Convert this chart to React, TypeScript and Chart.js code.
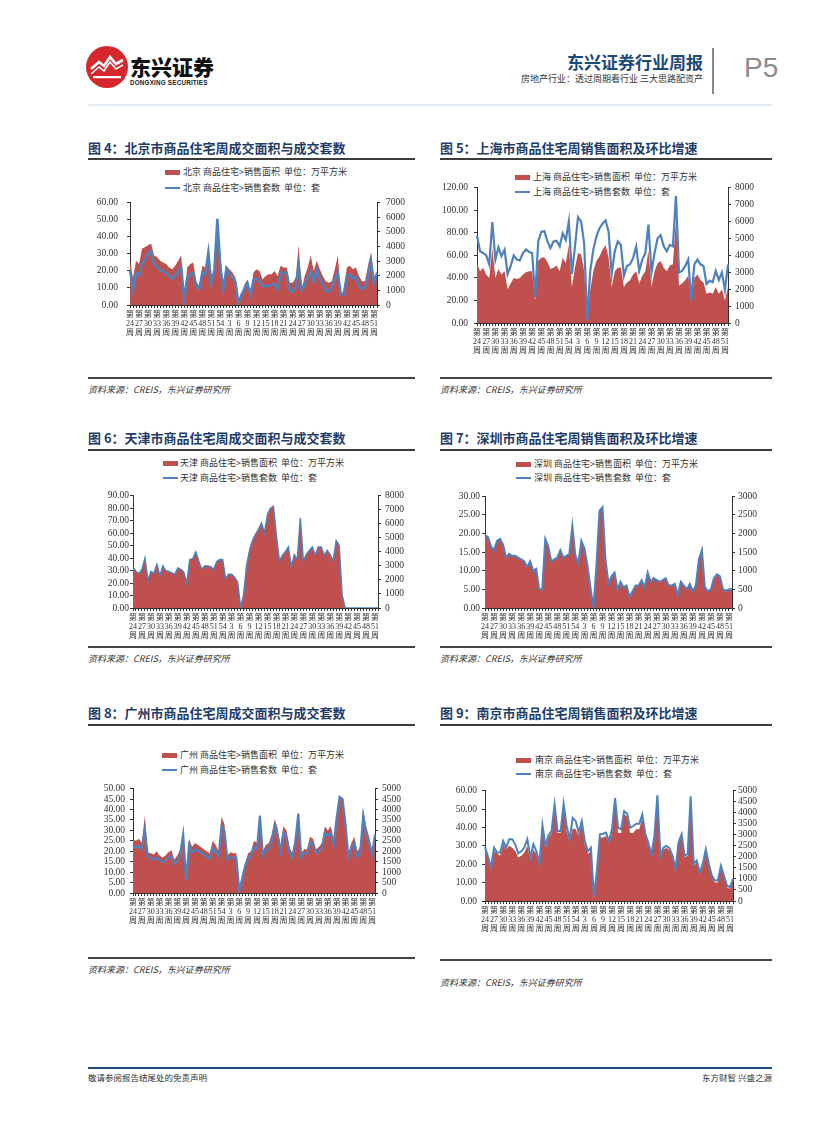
import React, { useEffect, useRef } from 'react';
import { Chart, registerables } from 'chart.js';

Chart.register(...registerables);

// ---------- categories ----------
const WEEKS = [
  24, 25, 26, 27, 28, 29, 30, 31, 32, 33, 34, 35, 36, 37, 38, 39, 40, 41, 42, 43, 44, 45, 46, 47, 48, 49, 50, 51, 52, 53, 54,
  1, 2, 3, 4, 5, 6, 7, 8, 9, 10, 11, 12, 13, 14, 15, 16, 17, 18, 19, 20, 21, 22, 23, 24, 25, 26, 27, 28, 29, 30, 31, 32,
  33, 34, 35, 36, 37, 38, 39, 40, 41, 42, 43, 44, 45, 46, 47, 48, 49, 50, 51, 52,
];

// ---------- 北京 ----------
const BJ_AREA = [
  26, 16, 26, 24, 33, 34, 35, 36, 29, 28,
  26, 25, 24, 22, 21, 23, 26, 29, 4, 22,
  24, 25, 14, 11, 23, 22, 32, 12, 22, 51,
  30, 10, 23, 21, 19, 16, 1, 6, 12, 15,
  6, 19, 21, 20, 15, 17, 18, 18, 20, 17,
  23, 22, 22, 13, 13, 16, 35, 9, 17, 22,
  29, 20, 26, 21, 17, 14, 13, 14, 21, 29,
  6, 9, 22, 23, 21, 22, 17, 14, 14, 23,
  31, 16, 20,
];
const BJ_UNITS = [
  2400, 1000, 2200, 2000, 2800, 3100, 3500, 3700, 2800, 2600,
  2400, 2300, 2200, 2000, 1800, 2000, 2300, 2600, 400, 1900,
  2100, 2200, 1300, 1100, 2200, 2100, 3600, 1500, 2400, 5900,
  2600, 1100, 2500, 2100, 1900, 1600, 100, 700, 1100, 1500,
  700, 1700, 1800, 1600, 1300, 1300, 1300, 1400, 1400, 1100,
  2200, 2200, 2200, 1000, 900, 1200, 2700, 1000, 1400, 1900,
  2300, 1600, 2400, 1800, 1400, 1000, 900, 1200, 1800, 2200,
  700, 800, 2000, 2100, 1800, 1900, 1300, 1100, 1200, 1900,
  3000, 1500, 2200,
];

// ---------- 上海 ----------
const SH_AREA = [
  53, 46, 49, 43, 40, 66, 40, 48, 43, 46,
  30, 35, 40, 39, 40, 43, 45, 46, 46, 20,
  55, 58, 58, 54, 48, 49, 51, 46, 58, 53,
  69, 32, 49, 62, 61, 46, 1.5, 29, 46, 55,
  59, 65, 69, 58, 32, 46, 49, 49, 32, 36,
  38, 43, 46, 35, 42, 46, 64, 32, 46, 53,
  55, 49, 46, 51, 52, 92, 33, 35, 38, 42,
  19, 40, 43, 38, 36, 26, 27, 26, 32, 26,
  30, 20, 32,
];
const SH_UNITS = [
  5160, 4240, 4140, 4000, 3470, 5970, 3750, 4470, 3950, 4340,
  2890, 3370, 4000, 3750, 3700, 4140, 4340, 4200, 4140, 1540,
  4820, 5390, 5430, 4820, 4430, 4820, 4860, 4530, 5300, 4910,
  6010, 2890, 4530, 6260, 6010, 4720, 150, 3080, 4340, 5110,
  5590, 5880, 6070, 5390, 2890, 4240, 4820, 4620, 2790, 3370,
  3470, 3850, 4530, 3080, 3750, 4140, 5820, 2990, 4140, 5010,
  5200, 4530, 4240, 4620, 4530, 7520, 2990, 3080, 3370, 3750,
  1350, 3470, 3750, 3470, 3370, 2310, 2500, 2410, 3080, 2540,
  2990, 1960, 3470,
];

// ---------- 天津 ----------
const TJ_AREA = [
  33, 29, 27, 31, 40, 22, 29, 28, 35, 26,
  34, 30, 29, 28, 27, 32, 31, 29, 20, 39,
  40, 45, 38, 31, 34, 34, 33, 31, 37, 39,
  39, 23, 27, 27, 25, 21, 1, 10, 34, 46,
  54, 59, 63, 68, 60, 75, 80, 82, 58, 38,
  42, 45, 49, 33, 43, 39, 72, 38, 43, 46,
  49, 42, 49, 49, 42, 46, 43, 38, 54, 50,
  10, 0, 0, 0, 0, 0, 0, 0, 0, 0,
  0, 0, 0,
];
const TJ_UNITS = [
  2900, 2600, 2450, 2750, 3550, 1950, 2600, 2500, 3100, 2300,
  3000, 2650, 2600, 2500, 2400, 2850, 2750, 2550, 1750, 3450,
  3500, 4000, 3350, 2750, 3000, 3000, 2950, 2750, 3300, 3450,
  3450, 2050, 2400, 2400, 2200, 1850, 80, 900, 3000, 4100,
  4800, 5250, 5600, 6050, 5350, 6650, 7100, 7250, 5150, 3350,
  3750, 4000, 4350, 2950, 3800, 3450, 6400, 3350, 3800, 4100,
  4350, 3750, 4350, 4350, 3750, 4100, 3800, 3350, 4800, 4450,
  900, 0, 0, 0, 0, 0, 0, 0, 0, 0,
  0, 0, 0,
];

// ---------- 深圳 ----------
const SZ_AREA = [
  19.5, 19, 16.4, 15.5, 18.2, 18.6, 16.9, 13.3, 14.6, 13.8,
  14, 13.3, 12.9, 12.4, 11.1, 12.9, 9.8, 10.8, 4.9, 5.3,
  18.6, 16.4, 12.4, 12.9, 13.3, 15.8, 13.5, 13.9, 14.6, 22.2,
  14.2, 12, 18.2, 16, 11.5, 5.3, 0, 11.5, 26.2, 27.2,
  13.3, 6.7, 8.4, 9.8, 5.3, 7.5, 5.3, 6.2, 3.1, 4.4,
  5.8, 6.2, 7.5, 5.8, 9.8, 7.1, 8, 7.5, 7.1, 7.5,
  7.8, 6.2, 6.2, 6.4, 3.5, 7.5, 6.2, 5.3, 6.4, 4.9,
  6.2, 13.3, 15.5, 5.8, 4.4, 5.3, 8, 8.9, 8.2, 4.9,
  4.9, 5.1, 5.1,
];
const SZ_UNITS = [
  1950, 1900, 1650, 1550, 1800, 1850, 1700, 1350, 1450, 1400,
  1400, 1350, 1300, 1250, 1100, 1250, 1000, 1050, 500, 500,
  1850, 1650, 1250, 1300, 1350, 1550, 1350, 1400, 1450, 2200,
  1400, 1200, 1800, 1600, 1150, 550, 0, 1150, 2600, 2700,
  1300, 650, 850, 950, 500, 700, 550, 600, 300, 450,
  600, 600, 750, 550, 950, 700, 800, 750, 700, 750,
  800, 600, 600, 650, 350, 700, 600, 500, 650, 450,
  600, 1300, 1550, 550, 450, 500, 800, 900, 850, 500,
  450, 500, 500,
];

// ---------- 广州 ----------
const GZ_AREA = [
  25.5, 25, 26, 24, 37, 19.5, 19, 18.5, 20, 18,
  17, 18, 19.5, 20.5, 16, 18, 21, 30, 7, 26,
  22, 24, 23, 22, 21, 20, 19, 25, 23, 20,
  36.5, 33, 18, 19.5, 19, 19, 1, 7, 14, 19,
  20, 25, 24, 38, 20, 23, 24, 28, 35.5, 31,
  23, 32, 30, 22, 19, 27, 39, 19, 21, 21,
  27, 26, 21, 22, 24, 32, 30, 32, 26, 38,
  46, 45, 36, 19, 24, 27, 20, 22, 40, 32,
  27, 21, 29,
];
const GZ_UNITS = [
  2200, 2200, 2250, 2100, 3050, 1750, 1650, 1600, 1700, 1550,
  1500, 1550, 1700, 1800, 1400, 1550, 1850, 2800, 600, 2300,
  1950, 2100, 2000, 1950, 1850, 1750, 1650, 2150, 2000, 1750,
  3200, 2950, 1600, 1700, 1700, 1700, 100, 700, 1300, 1700,
  1800, 2200, 2100, 3700, 1800, 2050, 2100, 2500, 3200, 2750,
  2000, 2900, 2700, 1950, 1700, 2450, 3800, 1700, 1900, 1900,
  2450, 2350, 1900, 2000, 2150, 2900, 2750, 2850, 2300, 3600,
  4600, 4500, 3300, 1700, 2150, 2400, 1750, 1950, 3700, 2850,
  2400, 1850, 2800,
];

// ---------- 南京 ----------
const NJ_AREA = [
  29, 25.5, 19, 27, 26, 24.6, 31, 28, 30, 29,
  27, 23.7, 24.6, 26.4, 30, 21.9, 28, 25.5, 20, 40,
  28, 34.5, 37, 51, 37, 37, 52.4, 38, 32.7, 39.5,
  39, 35.4, 42.5, 31, 25.5, 27, 1.3, 13, 34.5, 34.5,
  35.4, 31.8, 37, 56, 37, 37, 47, 46, 37, 37,
  39, 39, 46, 35.4, 31, 24.6, 34.5, 57, 23.7, 28,
  29, 27.6, 23.7, 16.5, 31, 35.4, 23.7, 24.6, 56, 19,
  21, 14.7, 19, 27, 19, 13, 10, 10, 18, 13,
  7.5, 6.6, 11,
];
const NJ_UNITS = [
  2450, 1980, 1530, 2420, 2200, 2200, 2720, 2420, 2800, 2800,
  2570, 2160, 2250, 2420, 2800, 1980, 2570, 2250, 1710, 3440,
  2500, 2990, 3170, 4370, 3170, 3170, 4400, 3400, 2800, 3770,
  3620, 3100, 3620, 2720, 2250, 2420, 210, 1380, 3020, 3050,
  3100, 2720, 3250, 4670, 3320, 3250, 4070, 3950, 3320, 3400,
  3500, 3500, 3920, 3050, 2650, 2100, 2950, 4790, 2050, 2420,
  2500, 2400, 2050, 1450, 2650, 3020, 2050, 2130, 4750, 1680,
  1830, 1300, 1680, 2350, 1680, 1150, 930, 930, 1600, 1150,
  700, 630, 1000,
];

const RED = '#C0504D';
const BLUE = '#4F81BD';
const TITLE_BLUE = '#1F3D6B';
const CJK = "'Noto Sans CJK SC', 'Noto Sans', sans-serif";
const NUM_FONT = "'Liberation Serif', 'Noto Sans CJK SC', serif";

type Rect = { x: number; y: number; w: number; h: number };
type Plot = { l: number; t: number; r: number; b: number };
type Spec = {
  canvas: Rect;
  plot: Plot;
  area: number[];
  units: number[];
  yMax: number;
  yStep: number;
  y1Max: number;
  y1Step: number;
  leftGap: number;
  rightGap: number;
  lineWidth: number;
};

function DualChart({ spec }: { spec: Spec }) {
  const ref = useRef<HTMLCanvasElement | null>(null);
  useEffect(() => {
    const { canvas, plot } = spec;
    const leftW = plot.l - canvas.x;
    const rightW = canvas.x + canvas.w - plot.r;
    const bottomH = canvas.y + canvas.h - plot.b;
    const topPad = plot.t - canvas.y;
    const chart = new Chart(ref.current as HTMLCanvasElement, {
      type: 'line',
      data: {
        labels: WEEKS.map((w) => String(w)),
        datasets: [
          {
            label: 'units',
            data: spec.units,
            yAxisID: 'y1',
            borderColor: BLUE,
            borderWidth: spec.lineWidth,
            pointRadius: 0,
            fill: false,
            tension: 0,
            order: 0,
          },
          {
            label: 'area',
            data: spec.area,
            yAxisID: 'y',
            backgroundColor: RED,
            borderColor: 'rgba(0,0,0,0)',
            borderWidth: 0,
            pointRadius: 0,
            fill: 'origin',
            tension: 0,
            order: 1,
          },
        ],
      },
      options: {
        animation: false,
        responsive: false,
        maintainAspectRatio: false,
        devicePixelRatio: 1,
        layout: { padding: { top: topPad, left: 0, right: 0, bottom: 0 } },
        plugins: { legend: { display: false }, tooltip: { enabled: false } },
        scales: {
          x: {
            type: 'category',
            offset: false,
            grid: { display: true, drawOnChartArea: false, drawTicks: true, tickLength: 3, color: '#333' },
            border: { display: true, color: '#333', width: 1 },
            ticks: {
              autoSkip: false,
              maxRotation: 0,
              minRotation: 0,
              padding: 2,
              color: '#333',
              font: { family: NUM_FONT, size: 8, lineHeight: 1.15 },
              callback: (_v: any, i: number) => (i % 3 === 0 ? ['第', String(WEEKS[i]), '周'] : ''),
            },
            afterFit: (s: any) => {
              s.height = bottomH;
            },
          },
          y: {
            position: 'left',
            min: 0,
            max: spec.yMax,
            grid: { display: true, drawOnChartArea: false, drawTicks: true, tickLength: 3, color: '#333' },
            border: { display: true, color: '#333', width: 1 },
            ticks: {
              stepSize: spec.yStep,
              autoSkip: false,
              padding: Math.max(1, spec.leftGap - 3),
              color: '#333',
              font: { family: NUM_FONT, size: 9.5 },
              callback: (v: any) => Number(v).toFixed(2),
            },
            afterFit: (s: any) => {
              s.width = leftW;
            },
          },
          y1: {
            position: 'right',
            min: 0,
            max: spec.y1Max,
            grid: { display: true, drawOnChartArea: false, drawTicks: true, tickLength: 3, color: '#333' },
            border: { display: true, color: '#333', width: 1 },
            ticks: {
              stepSize: spec.y1Step,
              autoSkip: false,
              padding: Math.max(1, spec.rightGap - 3),
              color: '#333',
              font: { family: NUM_FONT, size: 9.5 },
              callback: (v: any) => String(Math.round(Number(v))),
            },
            afterFit: (s: any) => {
              s.width = rightW;
            },
          },
        },
      } as any,
    });
    return () => chart.destroy();
  }, [spec]);
  const c = spec.canvas;
  return (
    <canvas
      ref={ref}
      width={c.w}
      height={c.h}
      style={{ position: 'absolute', left: c.x, top: c.y, width: c.w, height: c.h }}
    />
  );
}

function Abs({ x, y, h, style, children }: { x: number; y: number; h: number; style?: any; children?: any }) {
  return (
    <div
      style={{
        position: 'absolute',
        left: x,
        top: y - h / 2,
        height: h,
        lineHeight: h + 'px',
        whiteSpace: 'nowrap',
        ...style,
      }}
    >
      {children}
    </div>
  );
}

function Legend({ x, textX, y1, y2, city }: { x: number; textX: number; y1: number; y2: number; city: string }) {
  const txt = { fontFamily: CJK, fontSize: 9, color: '#333' };
  return (
    <>
      <div style={{ position: 'absolute', left: x, top: y1 - 2.5, width: 15, height: 5, background: RED }} />
      <Abs x={textX} y={y1} h={12} style={txt}>
        {city} 商品住宅&gt;销售面积&nbsp; 单位：万平方米
      </Abs>
      <div style={{ position: 'absolute', left: x, top: y2 - 1, width: 15, height: 2, background: BLUE }} />
      <Abs x={textX} y={y2} h={12} style={txt}>
        {city} 商品住宅&gt;销售套数&nbsp; 单位：套
      </Abs>
    </>
  );
}

function Title({ x, y, lineY, lineW, text }: { x: number; y: number; lineY: number; lineW: number; text: string }) {
  return (
    <>
      <Abs x={x} y={y} h={16} style={{ fontFamily: CJK, fontSize: 13, fontWeight: 700, color: TITLE_BLUE }}>
        {text}
      </Abs>
      <div style={{ position: 'absolute', left: x, top: lineY - 1, width: lineW, height: 2, background: '#3c3c3c' }} />
    </>
  );
}

function Source({ x, lineY, textY, w }: { x: number; lineY: number; textY: number; w: number }) {
  return (
    <>
      <div style={{ position: 'absolute', left: x, top: lineY - 1, width: w, height: 2, background: '#444' }} />
      <Abs x={x} y={textY} h={12} style={{ fontFamily: CJK, fontSize: 9, fontStyle: 'italic', color: '#333' }}>
        资料来源：CREIS，东兴证券研究所
      </Abs>
    </>
  );
}

const SPECS: Spec[] = [
  {
    canvas: { x: 82, y: 188, w: 336, h: 155 },
    plot: { l: 130, t: 198, r: 377, b: 305 },
    area: BJ_AREA, units: BJ_UNITS, yMax: 60, yStep: 10, y1Max: 7000, y1Step: 1000,
    leftGap: 12, rightGap: 9, lineWidth: 2.5,
  },
  {
    canvas: { x: 432, y: 176, w: 340, h: 185 },
    plot: { l: 477, t: 185, r: 728, b: 323 },
    area: SH_AREA, units: SH_UNITS, yMax: 120, yStep: 20, y1Max: 8000, y1Step: 1000,
    leftGap: 9, rightGap: 7, lineWidth: 2.2,
  },
  {
    canvas: { x: 82, y: 486, w: 336, h: 160 },
    plot: { l: 133, t: 494, r: 378, b: 608 },
    area: TJ_AREA, units: TJ_UNITS, yMax: 90, yStep: 10, y1Max: 8000, y1Step: 1000,
    leftGap: 4, rightGap: 7, lineWidth: 1.5,
  },
  {
    canvas: { x: 432, y: 486, w: 340, h: 160 },
    plot: { l: 485, t: 496, r: 732, b: 608 },
    area: SZ_AREA, units: SZ_UNITS, yMax: 30, yStep: 5, y1Max: 3000, y1Step: 500,
    leftGap: 5, rightGap: 6, lineWidth: 2,
  },
  {
    canvas: { x: 82, y: 778, w: 336, h: 150 },
    plot: { l: 133, t: 787, r: 375, b: 893 },
    area: GZ_AREA, units: GZ_UNITS, yMax: 50, yStep: 5, y1Max: 5000, y1Step: 500,
    leftGap: 8, rightGap: 7, lineWidth: 2.2,
  },
  {
    canvas: { x: 432, y: 780, w: 340, h: 158 },
    plot: { l: 485, t: 789, r: 733, b: 901 },
    area: NJ_AREA, units: NJ_UNITS, yMax: 60, yStep: 10, y1Max: 5000, y1Step: 500,
    leftGap: 8, rightGap: 5, lineWidth: 2,
  },
];

function Logo() {
  return (
    <svg width={44} height={44} viewBox="0 0 44 44" style={{ position: 'absolute', left: 85, top: 45 }}>
      <circle cx={22} cy={22} r={21} fill="#D7262C" />
      <polyline points="6,24 14,17 19,21 25,12 31,19 38,15" fill="none" stroke="#fff" strokeWidth={2.6} />
      <polyline points="6,29 14,22 19,26 25,17 31,24 38,20" fill="none" stroke="#fff" strokeWidth={1.6} />
      <rect x={8} y={31} width={28} height={2.2} fill="#fff" />
    </svg>
  );
}

export default function App() {
  return (
    <div
      style={{
        position: 'absolute',
        left: 0,
        top: 0,
        width: 827,
        height: 1122,
        background: '#fff',
        overflow: 'hidden',
      }}
    >
      {/* header */}
      <Logo />
      <Abs x={130} y={66} h={26} style={{ fontFamily: CJK, fontSize: 21, fontWeight: 900, color: '#111' }}>
        东兴证券
      </Abs>
      <Abs x={130} y={82.5} h={8} style={{ fontFamily: "'Liberation Sans', sans-serif", fontSize: 6.3, fontWeight: 700, color: '#222', letterSpacing: 0.2 }}>
        DONGXING SECURITIES
      </Abs>
      <div style={{ position: 'absolute', right: 827 - 703, top: 52, height: 20, lineHeight: '20px', fontFamily: CJK, fontSize: 17, fontWeight: 700, color: '#1E4A7A', whiteSpace: 'nowrap' }}>
        东兴证券行业周报
      </div>
      <div style={{ position: 'absolute', right: 827 - 703, top: 73, height: 12, lineHeight: '12px', fontFamily: CJK, fontSize: 9, color: '#333', whiteSpace: 'nowrap' }}>
        房地产行业：透过周期看行业 三大思路配资产
      </div>
      <div style={{ position: 'absolute', left: 712, top: 48, width: 1.5, height: 46, background: '#8a8a8a' }} />
      <Abs x={744} y={68} h={32} style={{ fontFamily: "'Liberation Sans Narrow', 'Liberation Sans', sans-serif", fontSize: 28, color: '#8c8c8c' }}>
        P5
      </Abs>
      <div style={{ position: 'absolute', left: 88, top: 104, width: 684, height: 2, background: '#E2EEF3' }} />

      {/* row 1 */}
      <Title x={88} y={148} lineY={159} lineW={327} text="图 4：北京市商品住宅周成交面积与成交套数" />
      <Title x={440} y={148} lineY={159} lineW={332} text="图 5：上海市商品住宅周销售面积及环比增速" />
      <Legend x={165} textX={183} y1={172} y2={188} city="北京" />
      <Legend x={515} textX={533} y1={177} y2={192} city="上海" />
      <DualChart spec={SPECS[0]} />
      <DualChart spec={SPECS[1]} />
      <Source x={88} lineY={378} textY={390} w={327} />
      <Source x={440} lineY={378} textY={390} w={332} />

      {/* row 2 */}
      <Title x={88} y={438} lineY={450} lineW={327} text="图 6：天津市商品住宅周成交面积与成交套数" />
      <Title x={440} y={438} lineY={450} lineW={332} text="图 7：深圳市商品住宅周销售面积及环比增速" />
      <Legend x={163} textX={180} y1={463} y2={478} city="天津" />
      <Legend x={516} textX={534} y1={464} y2={478} city="深圳" />
      <DualChart spec={SPECS[2]} />
      <DualChart spec={SPECS[3]} />
      <Source x={88} lineY={647} textY={659} w={327} />
      <Source x={440} lineY={647} textY={659} w={332} />

      {/* row 3 */}
      <Title x={88} y={713} lineY={725} lineW={327} text="图 8：广州市商品住宅周成交面积与成交套数" />
      <Title x={440} y={713} lineY={725} lineW={332} text="图 9：南京市商品住宅周销售面积及环比增速" />
      <Legend x={162} textX={180} y1={755} y2={770} city="广州" />
      <Legend x={516} textX={535} y1={760} y2={774} city="南京" />
      <DualChart spec={SPECS[4]} />
      <DualChart spec={SPECS[5]} />
      <Source x={88} lineY={958} textY={970} w={327} />
      <Source x={440} lineY={960} textY={983} w={332} />

      {/* footer */}
      <div style={{ position: 'absolute', left: 88, top: 1067, width: 684, height: 2, background: '#1F4E79' }} />
      <Abs x={88} y={1077} h={12} style={{ fontFamily: CJK, fontSize: 8.5, color: '#333' }}>
        敬请参阅报告结尾处的免责声明
      </Abs>
      <div style={{ position: 'absolute', right: 827 - 772, top: 1071, height: 12, lineHeight: '12px', fontFamily: CJK, fontSize: 8.5, color: '#333', whiteSpace: 'nowrap' }}>
        东方财智 兴盛之源
      </div>
    </div>
  );
}
